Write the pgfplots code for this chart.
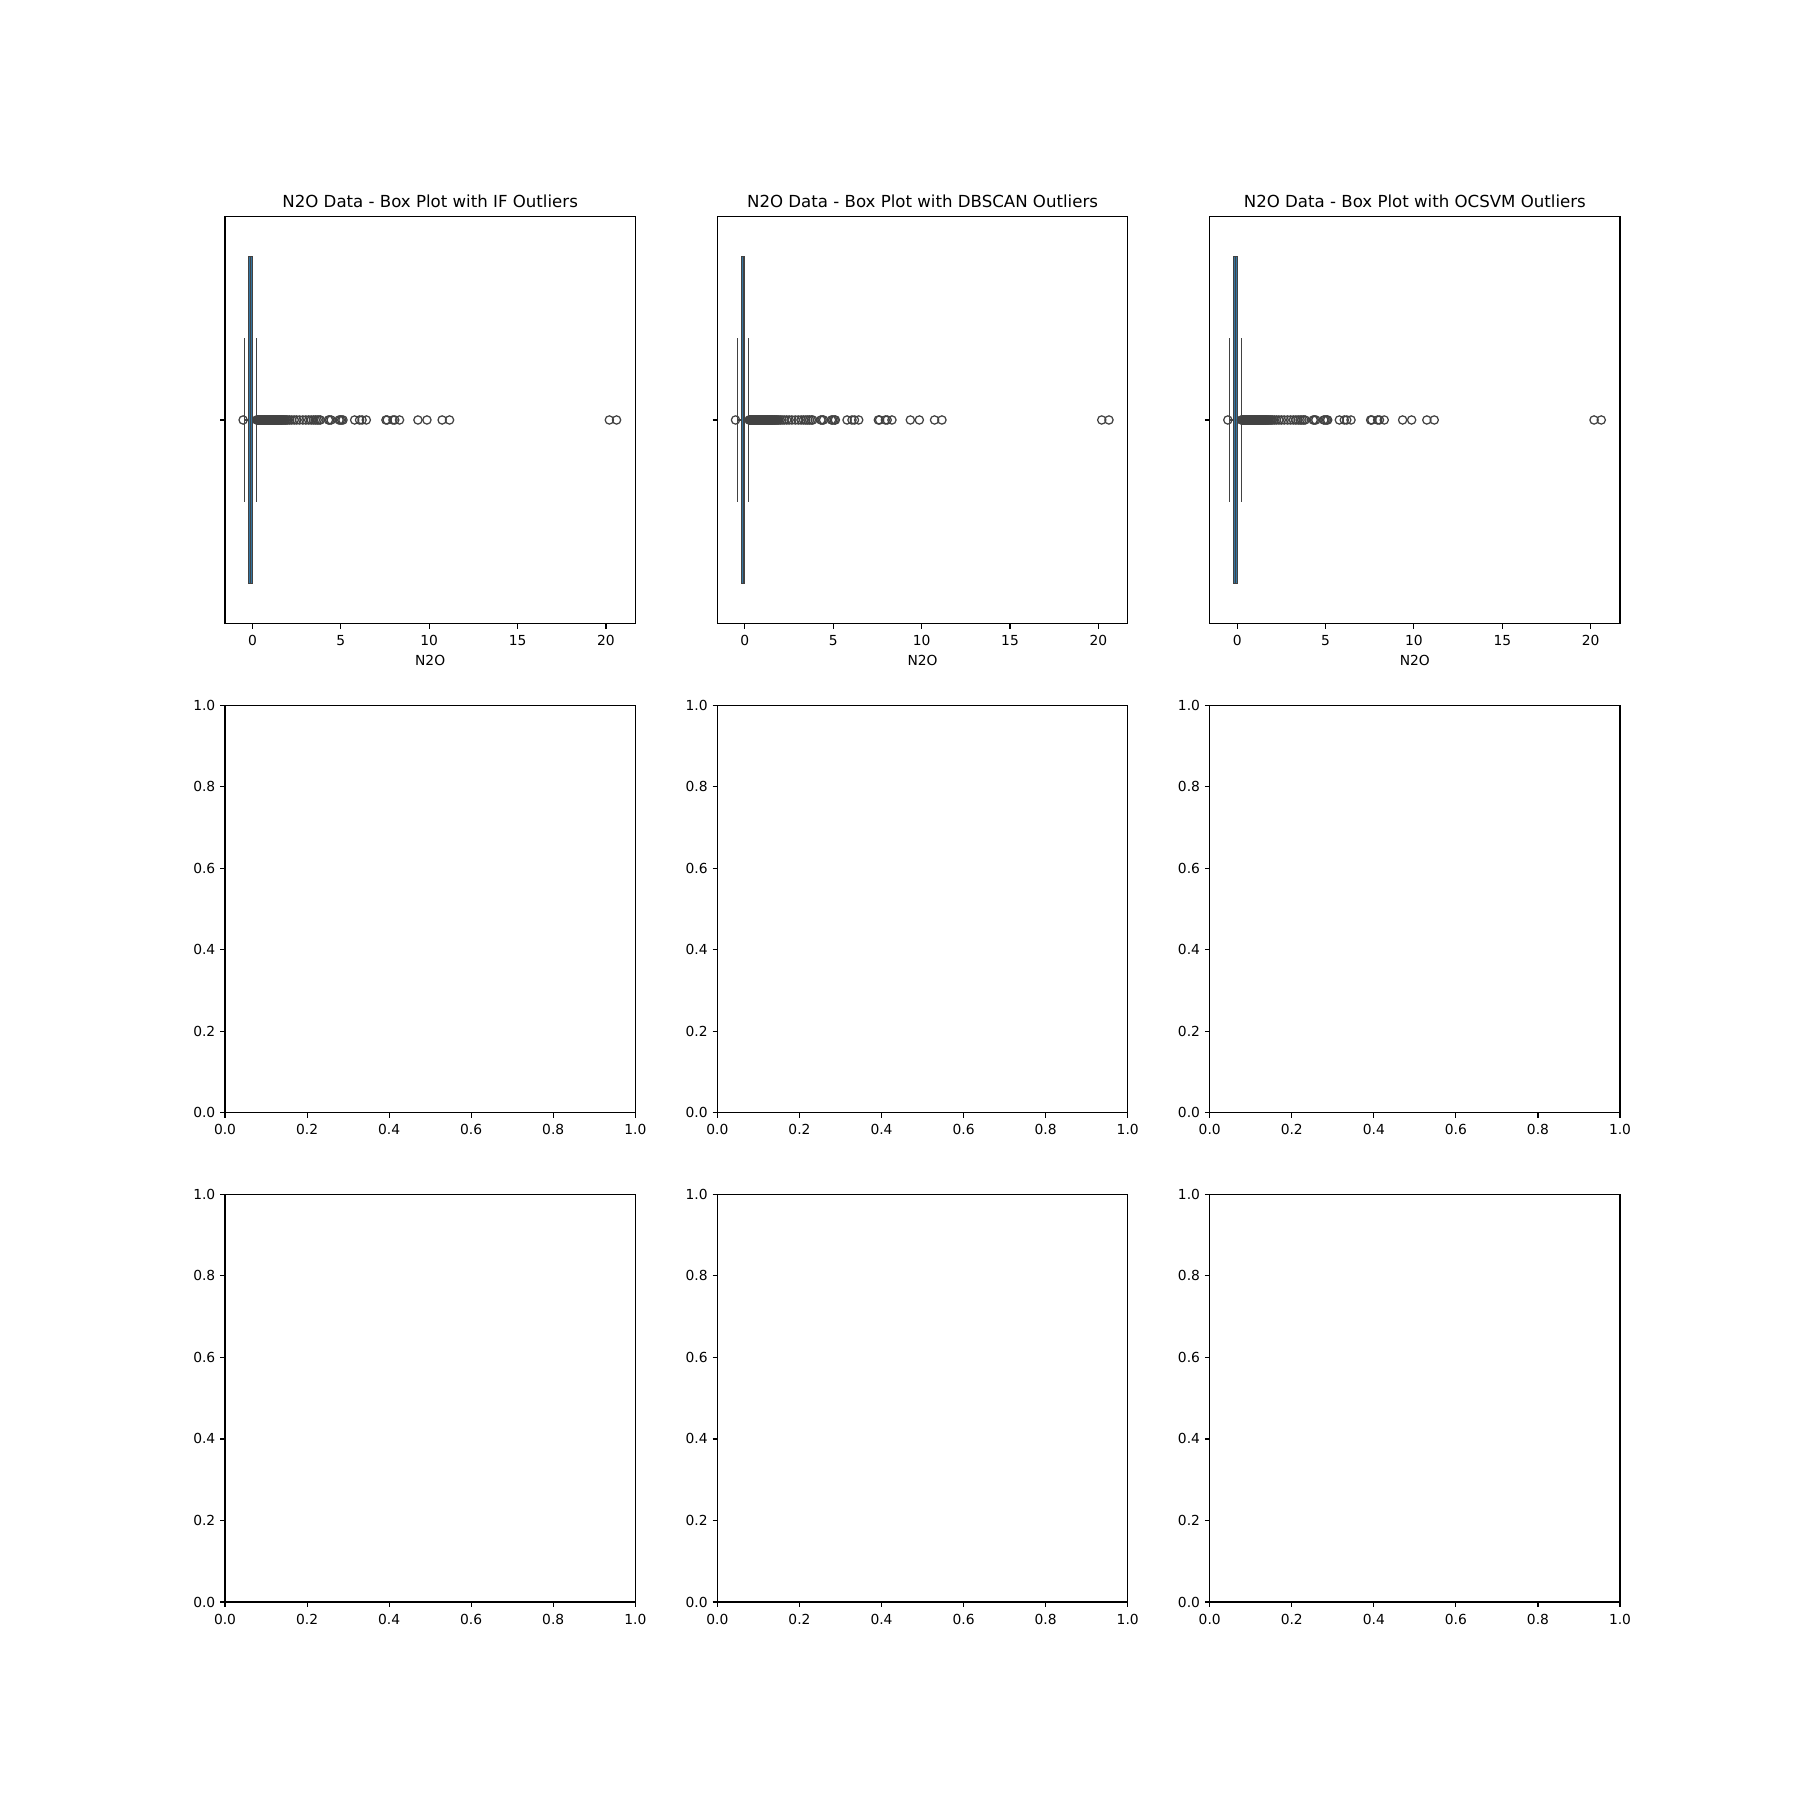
\documentclass[border=0pt]{standalone}
\usepackage{fontspec}
\setmainfont{DejaVu Sans}
\usepackage{pgfplots}
\usepackage{pgfplotstable}
\pgfplotsset{compat=1.18}
\usepgfplotslibrary{statistics}
\definecolor{boxblue}{HTML}{3274A1}
\definecolor{edgegray}{HTML}{424242}

\pgfplotstableread{
x y
-0.53 0
0.24 0
0.27 0
0.30 0
0.33 0
0.36 0
0.39 0
0.42 0
0.45 0
0.48 0
0.51 0
0.54 0
0.57 0
0.60 0
0.63 0
0.66 0
0.69 0
0.72 0
0.75 0
0.78 0
0.81 0
0.84 0
0.87 0
0.90 0
0.93 0
0.96 0
0.99 0
1.02 0
1.05 0
1.08 0
1.11 0
1.14 0
1.17 0
1.20 0
1.23 0
1.26 0
1.29 0
1.32 0
1.35 0
1.38 0
1.41 0
1.44 0
1.47 0
1.50 0
1.54 0
1.58 0
1.62 0
1.66 0
1.70 0
1.75 0
1.80 0
1.86 0
1.92 0
2.00 0
2.10 0
2.22 0
2.36 0
2.50 0
2.66 0
2.85 0
3.02 0
3.18 0
3.32 0
3.45 0
3.56 0
3.66 0
3.76 0
3.84 0
4.30 0
4.37 0
4.45 0
4.90 0
4.97 0
5.05 0
5.12 0
5.78 0
6.06 0
6.20 0
6.44 0
7.55 0
7.62 0
7.95 0
8.05 0
8.32 0
9.36 0
9.87 0
10.73 0
11.15 0
20.19 0
20.60 0
}\outliers

\pgfplotsset{
  mpl/.style={
    scale only axis, width=4.103in, height=4.076in,
    axis line style={line width=0.8pt, black},
    tick style={black, line width=0.8pt},
    major tick length=3.5pt, tick align=outside,
    xtick pos=lower, ytick pos=left,
    tick label style={font=\fontsize{10}{12}\selectfont, text=black},
    xticklabel style={yshift=-1.5pt},
    label style={font=\fontsize{10}{12}\selectfont},
    /pgf/number format/assume math mode=true,
    title style={font=\fontsize{12}{14}\selectfont, anchor=base, yshift=0.5pt, inner sep=0pt},
  },
  boxax/.style={mpl,
    xmin=-1.555, xmax=21.66, ymin=-0.5, ymax=0.5,
    xtick={0,5,10,15,20}, ytick={0}, yticklabels={},
    xlabel={N2O},
    boxplot/draw direction=x,
  },
  emptyax/.style={mpl,
    xmin=0, xmax=1, ymin=0, ymax=1,
    xtick={0,0.2,0.4,0.6,0.8,1}, xticklabels={0.0,0.2,0.4,0.6,0.8,1.0},
    ytick={0,0.2,0.4,0.6,0.8,1}, yticklabels={0.0,0.2,0.4,0.6,0.8,1.0},
  },
}

\newcommand{\boxpanel}[3]{%
\begin{axis}[boxax, at={(#1,#2)}, anchor=south west,
  title={N2O Data - Box Plot with #3 Outliers}]
\addplot[draw=edgegray, fill=boxblue, line width=0.75pt,
  boxplot prepared={draw position=0, lower whisker=-0.43, lower quartile=-0.21,
    median=-0.10, upper quartile=0.00, upper whisker=0.22,
    box extend=0.8, whisker extend=0.4}] coordinates {};
\addplot[only marks, mark=o, mark size=3pt, mark options={draw=edgegray, line width=0.9pt}]
  table[x=x, y=y] {\outliers};
\end{axis}}

\begin{document}
\begin{tikzpicture}
\path[use as bounding box] (0,0) rectangle (18in,18in);
\boxpanel{2.25in}{11.762in}{IF}
\boxpanel{7.174in}{11.762in}{DBSCAN}
\boxpanel{12.097in}{11.762in}{OCSVM}
\begin{axis}[emptyax, at={(2.25in,6.871in)}, anchor=south west]\end{axis}
\begin{axis}[emptyax, at={(7.174in,6.871in)}, anchor=south west]\end{axis}
\begin{axis}[emptyax, at={(12.097in,6.871in)}, anchor=south west]\end{axis}
\begin{axis}[emptyax, at={(2.25in,1.98in)}, anchor=south west]\end{axis}
\begin{axis}[emptyax, at={(7.174in,1.98in)}, anchor=south west]\end{axis}
\begin{axis}[emptyax, at={(12.097in,1.98in)}, anchor=south west]\end{axis}
\end{tikzpicture}
\end{document}
